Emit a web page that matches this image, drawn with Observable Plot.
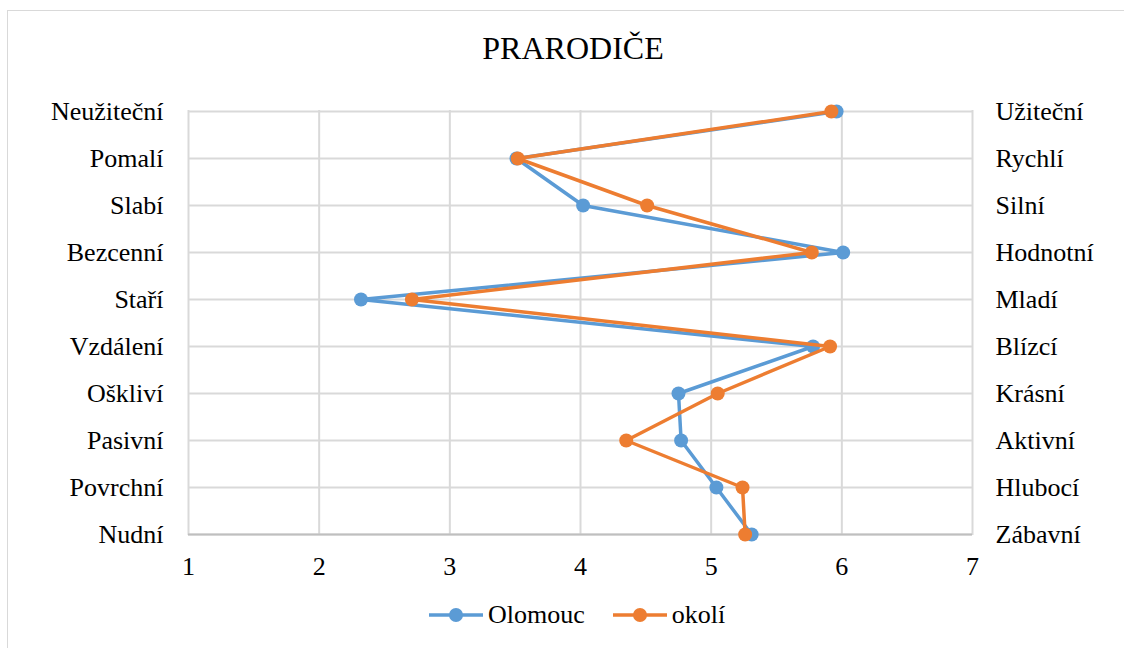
<!DOCTYPE html>
<html>
<head>
<meta charset="utf-8">
<script src="https://cdn.jsdelivr.net/npm/d3@7"></script>
<script src="https://cdn.jsdelivr.net/npm/@observablehq/plot@0.6"></script>
<style>
  html, body { margin: 0; padding: 0; background: #fff; }
  #page { position: relative; width: 1124px; height: 648px; overflow: hidden; font-family: "Liberation Serif", "Times New Roman", serif; }
  #frame { position: absolute; left: 7px; top: 10px; width: 1130px; height: 700px; border: 1.5px solid #d9d9d9; box-sizing: border-box; }
  #title { position: absolute; left: 11px; top: 28px; width: 1124px; text-align: center; font-size: 32px; line-height: 40px; color: #000; }
  #chart { position: absolute; left: 0; top: 80px; }
  #legend { position: absolute; top: 601px; left: 429px; display: flex; align-items: center; font-size: 26px; line-height: 28px; color: #000; }
  #legend .item { display: flex; align-items: center; }
  #legend svg { display: block; margin-right: 5px; }
</style>
</head>
<body>
<div id="page">
  <div id="frame"></div>
  <div id="title">PRARODIČE</div>
  <div id="chart"></div>
  <div id="legend"></div>
</div>
<script>
// Data
const leftLabels = ["Neužiteční", "Pomalí", "Slabí", "Bezcenní", "Staří", "Vzdálení", "Ošklivi\u0301".normalize("NFC"), "Pasivní", "Povrchní", "Nudní"];
const rightLabels = ["Užiteční", "Rychlí", "Silní", "Hodnotní", "Mladí", "Blízcí", "Krásní", "Aktivní", "Hlubocí", "Zábavní"];
const olomouc = [5.96, 3.51, 4.02, 6.01, 2.32, 5.78, 4.75, 4.77, 5.04, 5.31];
const okoli = [5.92, 3.52, 4.51, 5.77, 2.71, 5.91, 5.05, 4.35, 5.24, 5.26];
const xTicks = [1, 2, 3, 4, 5, 6, 7];
const seriesNames = ["Olomouc", "okolí"];
const seriesColors = ["#5b9bd5", "#ed7d31"];

const rightOf = new Map(leftLabels.map((d, i) => [d, rightLabels[i]]));
const dataO = leftLabels.map((c, i) => ({cat: c, value: olomouc[i]}));
const dataK = leftLabels.map((c, i) => ({cat: c, value: okoli[i]}));

const W = 1124, H = 510;
const chart = Plot.plot({
  width: W,
  height: H,
  marginLeft: 188,
  marginRight: 152,
  marginTop: 30,
  marginBottom: 55,
  style: {fontFamily: "'Liberation Serif', 'Times New Roman', serif", fontSize: "26px", color: "#000", background: "transparent"},
  x: {domain: [1, 7], label: null},
  y: {type: "point", domain: leftLabels, padding: 0, label: null},
  marks: [
    Plot.gridX(xTicks, {stroke: "#d9d9d9", strokeOpacity: 1, strokeWidth: 2}),
    Plot.gridY(leftLabels, {stroke: "#d9d9d9", strokeOpacity: 1, strokeWidth: 2}),
    Plot.ruleY([leftLabels[leftLabels.length - 1]], {stroke: "#bfbfbf", strokeWidth: 2}),
    Plot.axisX(xTicks, {tickSize: 0, tickPadding: 21, label: null, fill: "#000", tickFormat: d => String(d)}),
    Plot.axisY(leftLabels, {anchor: "left", tickSize: 0, tickPadding: 25, label: null, fill: "#000"}),
    Plot.axisY(leftLabels, {anchor: "right", tickSize: 0, tickPadding: 23, label: null, fill: "#000", tickFormat: d => rightOf.get(d)}),
    Plot.line(dataO, {x: "value", y: "cat", stroke: seriesColors[0], strokeWidth: 3.5}),
    Plot.dot(dataO, {x: "value", y: "cat", r: 7, fill: seriesColors[0], stroke: null}),
    Plot.line(dataK, {x: "value", y: "cat", stroke: seriesColors[1], strokeWidth: 3.5}),
    Plot.dot(dataK, {x: "value", y: "cat", r: 7, fill: seriesColors[1], stroke: null})
  ]
});
document.getElementById("chart").appendChild(chart);

// Legend
const legend = document.getElementById("legend");
seriesNames.forEach((name, i) => {
  const item = document.createElement("div");
  item.className = "item";
  if (i > 0) item.style.marginLeft = "28px";
  const ns = "http://www.w3.org/2000/svg";
  const svg = document.createElementNS(ns, "svg");
  svg.setAttribute("width", "54");
  svg.setAttribute("height", "16");
  const ln = document.createElementNS(ns, "line");
  ln.setAttribute("x1", "0"); ln.setAttribute("x2", "54");
  ln.setAttribute("y1", "8"); ln.setAttribute("y2", "8");
  ln.setAttribute("stroke", seriesColors[i]); ln.setAttribute("stroke-width", "3.5");
  const c = document.createElementNS(ns, "circle");
  c.setAttribute("cx", "27"); c.setAttribute("cy", "8"); c.setAttribute("r", "7");
  c.setAttribute("fill", seriesColors[i]);
  svg.appendChild(ln); svg.appendChild(c);
  const t = document.createElement("span");
  t.textContent = name;
  item.appendChild(svg); item.appendChild(t);
  legend.appendChild(item);
});
</script>
</body>
</html>
